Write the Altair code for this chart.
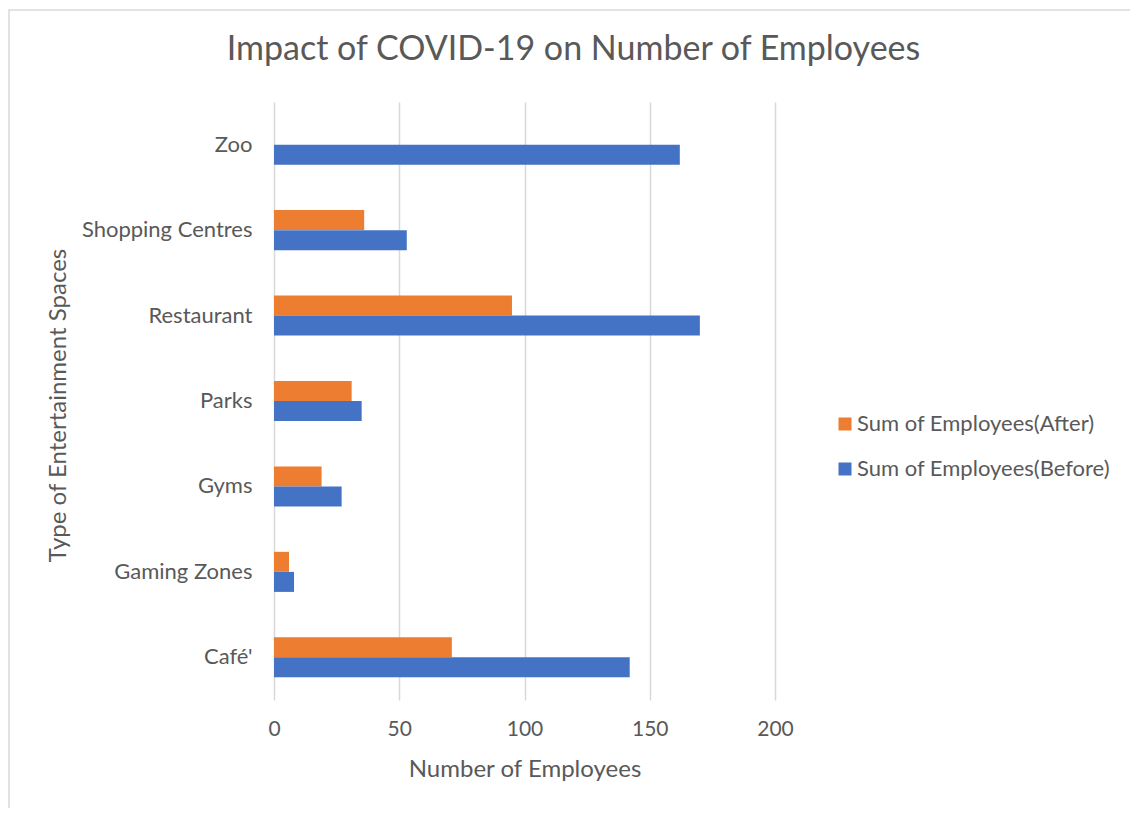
import altair as alt
import pandas as pd

categories = ["Zoo", "Shopping Centres", "Restaurant", "Parks", "Gyms", "Gaming Zones", "Café'"]
after = [0, 36, 95, 31, 19, 6, 71]
before = [162, 53, 170, 35, 27, 8, 142]
series_names = ["Sum of Employees(After)", "Sum of Employees(Before)"]
series_colors = ["#ED7D31", "#4472C4"]
x_ticks = [0, 50, 100, 150, 200]

rows = []
for c, a, b in zip(categories, after, before):
    rows.append({"cat": c, "series": series_names[0], "value": a})
    rows.append({"cat": c, "series": series_names[1], "value": b})
df = pd.DataFrame(rows)

FONT = "Lato"
TXT = "#595959"
W, H = 501, 598
PL, PT = 266, 94
PR = 1122 - PL - W
PB = 800 - PT - H

bars = alt.Chart(df).mark_bar(size=20).encode(
    y=alt.Y("cat:N", sort=categories,
            scale=alt.Scale(paddingInner=0.53, paddingOuter=0.265),
            axis=alt.Axis(title="Type of Entertainment Spaces", domain=False, ticks=False,
                          labelFontSize=22, labelColor=TXT, labelFont=FONT, labelPadding=22,
                          titleFontSize=24, titleColor=TXT, titleFont=FONT, titleFontWeight="normal",
                          titleX=-216, titleY=303, titleAngle=270, titleBaseline="middle",
                          titleAlign="center")),
    yOffset=alt.YOffset("series:N", sort=series_names, scale=alt.Scale(paddingInner=0)),
    x=alt.X("value:Q", scale=alt.Scale(domain=[0, 200], nice=False),
            axis=alt.Axis(title="Number of Employees", values=x_ticks, domain=False, ticks=False,
                          grid=True, gridColor="#d9d9d9", gridWidth=1.5, labelFlush=False,
                          labelFontSize=21, labelColor=TXT, labelFont=FONT, labelPadding=18,
                          titleFontSize=24, titleColor=TXT, titleFont=FONT, titleFontWeight="normal",
                          titleY=69, titleBaseline="middle")),
    color=alt.Color("series:N", sort=series_names,
                    scale=alt.Scale(domain=series_names, range=series_colors),
                    legend=alt.Legend(title=None, orient="none", legendX=560, legendY=311,
                                      symbolType="square", symbolSize=169, symbolStrokeWidth=0,
                                      labelFontSize=22, labelColor=TXT, labelFont=FONT, labelLimit=0,
                                      labelOffset=1, rowPadding=23)),
)

border = alt.Chart(pd.DataFrame({"a": [0]})).mark_rect(
    fill=None, stroke="#d9d9d9", strokeWidth=1.5, clip=False
).encode(
    x=alt.value(-265), x2=alt.value(900),
    y=alt.value(-92), y2=alt.value(800),
)

chart = alt.layer(border, bars).properties(
    width=W, height=H,
    padding={"left": PL, "top": PT, "right": PR, "bottom": PB},
    autosize=alt.AutoSizeParams(type="none"),
    title=alt.TitleParams("Impact of COVID-19 on Number of Employees", fontSize=34,
                          font=FONT, color=TXT, fontWeight="normal", anchor="middle",
                          dx=49, offset=-58),
).configure_view(stroke=None)

chart.save("out.html", embed_options={"renderer": "svg", "actions": False})
